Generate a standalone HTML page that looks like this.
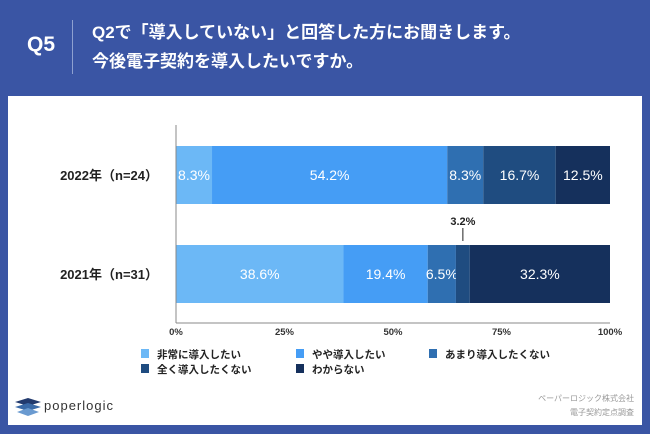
<!DOCTYPE html>
<html><head><meta charset="utf-8"><style>
body{margin:0;width:650px;height:434px;background:#3a55a4;font-family:"Liberation Sans","Noto Sans CJK JP",sans-serif;overflow:hidden;position:relative}
.abs{position:absolute}
</style></head><body>
<div class="abs" style="left:27px;top:33px;color:#fff;font-size:21px;font-weight:bold">Q5</div>
<div class="abs" style="left:72px;top:20px;width:1px;height:54px;background:#8ea0d0"></div>
<div class="abs" style="left:92px;top:18px;color:#fff;font-size:17px;font-weight:bold;line-height:29px">Q2で「導入していない」と回答した方にお聞きします。<br>今後電子契約を導入したいですか。</div>
<div class="abs" style="left:8px;top:96px;width:634px;height:329px;background:#fff"></div>
<svg class="abs" style="left:0;top:0" width="650" height="434" id="chart"></svg>
<div class="abs" style="right:16px;top:392px;color:#999;font-size:8px;text-align:right;line-height:14px">ペーパーロジック株式会社<br>電子契約定点調査</div>
<div class="abs" style="left:44px;top:398px;color:#333;font-size:13px;letter-spacing:1px">poperlogic</div>
<svg class="abs" style="left:13px;top:396px" width="30" height="22">
<polygon points="2,6 15,2 28,6 15,10" fill="#223a6e"/><polygon points="2,11 15,7 28,11 15,15" fill="#3a6aa8"/><polygon points="4,16 15,12 26,16 15,20" fill="#6a9ad0"/></svg>
<script>
const categories=["2022年（n=24）","2021年（n=31）"];
const seriesNames=["非常に導入したい","やや導入したい","あまり導入したくない","全く導入したくない","わからない"];
const v2022=[8.3,54.2,8.3,16.7,12.5];
const v2021=[38.6,19.4,6.5,3.2,32.3];
const ticks=[0,25,50,75,100];
const colors=["#6cb8f6","#459df5","#2f6fb1","#1f4c80","#15305c"];
const NS="http://www.w3.org/2000/svg";
const svg=document.getElementById('chart');
const x0=176,x1=610;
const xs=v=>x0+(x1-x0)*v/100;
const rows=[{vals:v2022,y:146,h:58},{vals:v2021,y:245,h:58}];
function mk(t,a){const e=document.createElementNS(NS,t);for(const k in a)e.setAttribute(k,a[k]);svg.appendChild(e);return e;}
rows.forEach((r,ri)=>{
 let lab=mk('text',{x:158,y:r.y+r.h/2+5,'text-anchor':'end','font-size':13,'font-weight':'bold',fill:'#222'});
 lab.textContent=categories[ri];
 
 
 let c=0;
 r.vals.forEach((v,i)=>{
  const a=xs(c),b=xs(c+v);
  const rc=mk('rect',{x:a,y:r.y,width:b-a,height:r.h,fill:colors[i]});
  
  
  const mid=(a+b)/2;
  if(v<5){
   const ln=mk('line',{x1:mid,y1:r.y-17,x2:mid,y2:r.y-4,stroke:'#222','stroke-width':1});
   
   
   const t=mk('text',{x:mid,y:r.y-20,'text-anchor':'middle','font-size':11,fill:'#222','font-weight':'bold'});
   t.textContent=v.toFixed(1)+'%';
   
   
  } else {
   const t=mk('text',{x:mid,y:r.y+r.h/2+5,'text-anchor':'middle','font-size':14,fill:'#fff'});
   t.textContent=v.toFixed(1)+'%';
   
   
  }
  c+=v;
 });
});
const ax=mk('line',{x1:x0,y1:125,x2:x0,y2:323,stroke:'#888','stroke-width':1});


const bx=mk('line',{x1:x0,y1:323,x2:x1,y2:323,stroke:'#888','stroke-width':1});


ticks.forEach(t=>{
 const e=mk('text',{x:xs(t),y:335,'text-anchor':'middle','font-size':9.5,'font-weight':'bold',fill:'#333'});
 e.textContent=t+'%';
 
 
});
const lpos=[[141,358],[296,358],[429,358],[141,373],[296,373]];
seriesNames.forEach((n,i)=>{
 const r=mk('rect',{x:lpos[i][0],y:lpos[i][1]-9,width:8,height:9,fill:colors[i]});
 
 
 const t=mk('text',{x:lpos[i][0]+16,y:lpos[i][1],'font-size':10.5,'font-weight':'bold',fill:'#222'});
 t.textContent=n;
 
 
});
</script>
</body></html>
